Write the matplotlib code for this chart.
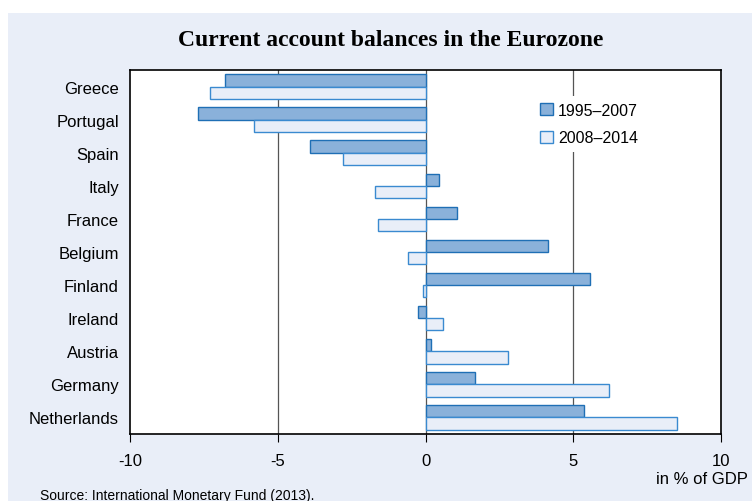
import numpy as np
import matplotlib
matplotlib.use("Agg")
import matplotlib.pyplot as plt
from matplotlib.patches import Rectangle

countries = ["Greece", "Portugal", "Spain", "Italy", "France", "Belgium",
             "Finland", "Ireland", "Austria", "Germany", "Netherlands"]
p1995_2007 = [-6.8, -7.7, -3.9, 0.47, 1.08, 4.13, 5.55, -0.27, 0.17, 1.66, 5.35]
p2008_2014 = [-7.3, -5.8, -2.8, -1.7, -1.62, -0.6, -0.1, 0.6, 2.78, 6.2, 8.5]

bg = "#e9eef8"
dark_fill, dark_edge = "#8ab1da", "#1f6fb5"
light_fill, light_edge = "#e9eef8", "#3a8ad0"

fig = plt.figure(figsize=(7.52, 5.02), dpi=100)
fig.patch.set_facecolor("white")
fig.patches.append(Rectangle((8/752, 0), 1, 1 - 14/502, transform=fig.transFigure,
                             facecolor=bg, edgecolor="none", zorder=-10))

ax = fig.add_axes([130/752, 1 - 435/502, 591/752, 364/502])
y = np.arange(len(countries))
h = 0.37
ax.barh(y - h/2, p1995_2007, height=h, color=dark_fill, edgecolor=dark_edge,
        linewidth=1.0, label="1995\u20132007", zorder=3)
ax.barh(y + h/2, p2008_2014, height=h, color=light_fill, edgecolor=light_edge,
        linewidth=1.0, label="2008\u20132014", zorder=3)

ax.set_xlim(-10, 10)
ax.set_ylim(len(countries) - 0.5, -0.5)
ax.set_yticks(y)
ax.set_yticklabels(countries, fontsize=12, family="Liberation Sans")
ax.set_xticks([-10, -5, 0, 5, 10])
ax.set_xticklabels(["-10", "-5", "0", "5", "10"], fontsize=12, family="Liberation Sans")
ax.tick_params(axis="y", length=0, pad=8)
ax.tick_params(axis="x", direction="out", length=6, pad=8)
for x in (-5, 0, 5):
    ax.axvline(x, color="#555555", lw=0.9, zorder=1)
for s in ax.spines.values():
    s.set_color("black")
    s.set_linewidth(1.2)

leg = ax.legend(loc="upper left", bbox_to_anchor=(0.67, 0.95), frameon=True,
                facecolor="white", edgecolor="none",
                handlelength=0.8, handleheight=0.8, handletextpad=0.3,
                labelspacing=0.8, prop={"family": "Liberation Sans", "size": 11.5})
leg.get_frame().set_alpha(1)

fig.text(391/752, 1 - 40/502, "Current account balances in the Eurozone",
         ha="center", va="center", fontsize=17, fontweight="bold",
         family="Liberation Serif")
fig.text(748/752, 1 - 480/502, "in % of GDP", ha="right", va="center",
         fontsize=12, family="Liberation Sans")
fig.text(40/752, 1 - 496/502, "Source: International Monetary Fund (2013).",
         ha="left", va="center", fontsize=10, family="Liberation Sans")

fig.savefig("out.png", dpi=100, facecolor=fig.get_facecolor())
